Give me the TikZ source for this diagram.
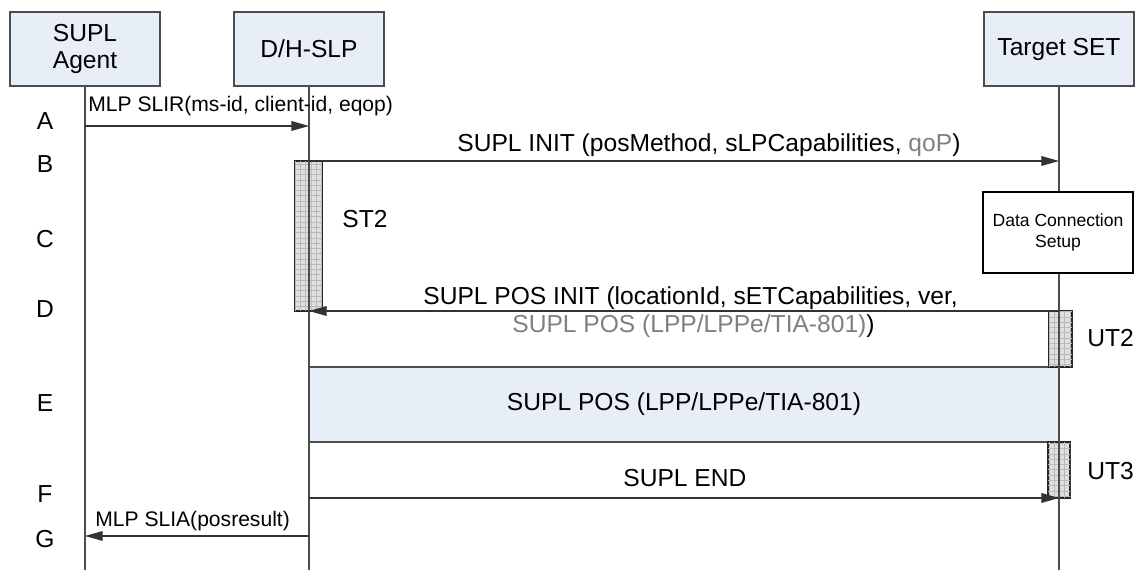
\documentclass[tikz,border=0pt]{standalone}
\usepackage{fontspec}
\setmainfont{Liberation Sans}
\usetikzlibrary{arrows.meta,patterns}
\definecolor{entityblue}{RGB}{232,238,248}
\definecolor{optgray}{RGB}{128,128,128}
\newcommand\bigtxt{\fontsize{14}{15}\selectfont}

\begin{document}
\begin{tikzpicture}[x=0.02cm, y=-0.02cm, font=\bigtxt,
    entity/.style={draw=black!70, fill=entityblue, line width=0.6pt, minimum width=3cm, minimum height=1.48cm, align=center},
    lifeline/.style={draw=black!70, line width=0.6pt},
    msg/.style={draw=black!80, line width=0.6pt, -{Triangle[length=10pt,width=5.5pt]}},
    msgtext/.style={inner sep=0pt, anchor=base west},
    mlptext/.style={msgtext, font=\fontsize{12}{14}\selectfont},
    steplabel/.style={inner sep=0pt, anchor=base},
    timerbar/.style={draw=black!85, line width=0.6pt, fill=gray!25, postaction={pattern=grid, pattern color=gray!55}, inner sep=0pt}]
    \useasboundingbox (0,0) rectangle (1137,570);

    % entities
    \node[entity] (agent) at (85,49) {SUPL\\Agent};
    \node[entity] (slp) at (309,49) {D/H-SLP};
    \node[entity] (target) at (1059,49) {Target SET};
    \coordinate (bottom) at (0,570);

    % positioning exchange
    \node[draw=black!70, fill=entityblue, line width=0.6pt, minimum width=15cm, minimum height=1.5cm] (posbox) at (684,404.5) {SUPL POS (LPP/LPPe/TIA-801)};

    % timers
    \node[timerbar, minimum width=0.54cm, minimum height=3cm] (st2) at (308.5,236) {};
    \node[timerbar, minimum width=0.46cm, minimum height=1.12cm] (ut2) at (1060.5,339) {};
    \node[timerbar, minimum width=0.44cm, minimum height=1.12cm] (ut3) at (1059,470) {};
    \node[msgtext] (st2lbl) at (342,228) {ST2};
    \node[msgtext] (ut2lbl) at (1087,347) {UT2};
    \node[msgtext] (ut3lbl) at (1087,480) {UT3};

    % lifelines
    \draw[lifeline] (agent) -- (agent |- bottom);
    \draw[lifeline] (slp) -- (slp |- bottom);
    \draw[lifeline] (target) -- (target |- bottom);

    \node[draw=black, fill=white, line width=0.6pt, minimum width=3cm, minimum height=1.62cm, align=center, font=\fontsize{10}{12}\selectfont] (dcs) at (1058,232.5) {Data Connection\\Setup};

    % step letters
    \node[steplabel] (stepA) at (45,130) {A};
    \node[steplabel] (stepB) at (45,173) {B};
    \node[steplabel] (stepC) at (45,248) {C};
    \node[steplabel] (stepD) at (45,318) {D};
    \node[steplabel] (stepE) at (45,412) {E};
    \node[steplabel] (stepF) at (45,503) {F};
    \node[steplabel] (stepG) at (45,548) {G};

    % message levels
    \coordinate (yA) at (0,126);
    \coordinate (yB) at (0,161);
    \coordinate (yD) at (0,311);
    \coordinate (yF) at (0,498);
    \coordinate (yG) at (0,536);

    % messages
    \draw[msg] (agent |- yA) -- (slp |- yA);
    \node[mlptext] (slir) at (88,112) {MLP SLIR(ms-id, client-id, eqop)};

    \draw[msg] (slp |- yB) -- (target |- yB);
    \node[msgtext] (init) at (457,152) {SUPL INIT (posMethod, sLPCapabilities, \textcolor{optgray}{qoP})};

    \draw[msg] (target |- yD) -- (slp |- yD);
    \node[msgtext] (posinit) at (423,305) {SUPL POS INIT (locationId, sETCapabilities, ver,};
    \node[msgtext] (posinit2) at (512,333) {\textcolor{optgray}{SUPL POS (LPP/LPPe/TIA-801)})};

    \draw[msg] (slp |- yF) -- (target |- yF);
    \node[msgtext] (supend) at (623,487) {SUPL END};

    \draw[msg] (slp |- yG) -- (agent |- yG);
    \node[mlptext] (slia) at (95,527) {MLP SLIA(posresult)};
\end{tikzpicture}
\end{document}
